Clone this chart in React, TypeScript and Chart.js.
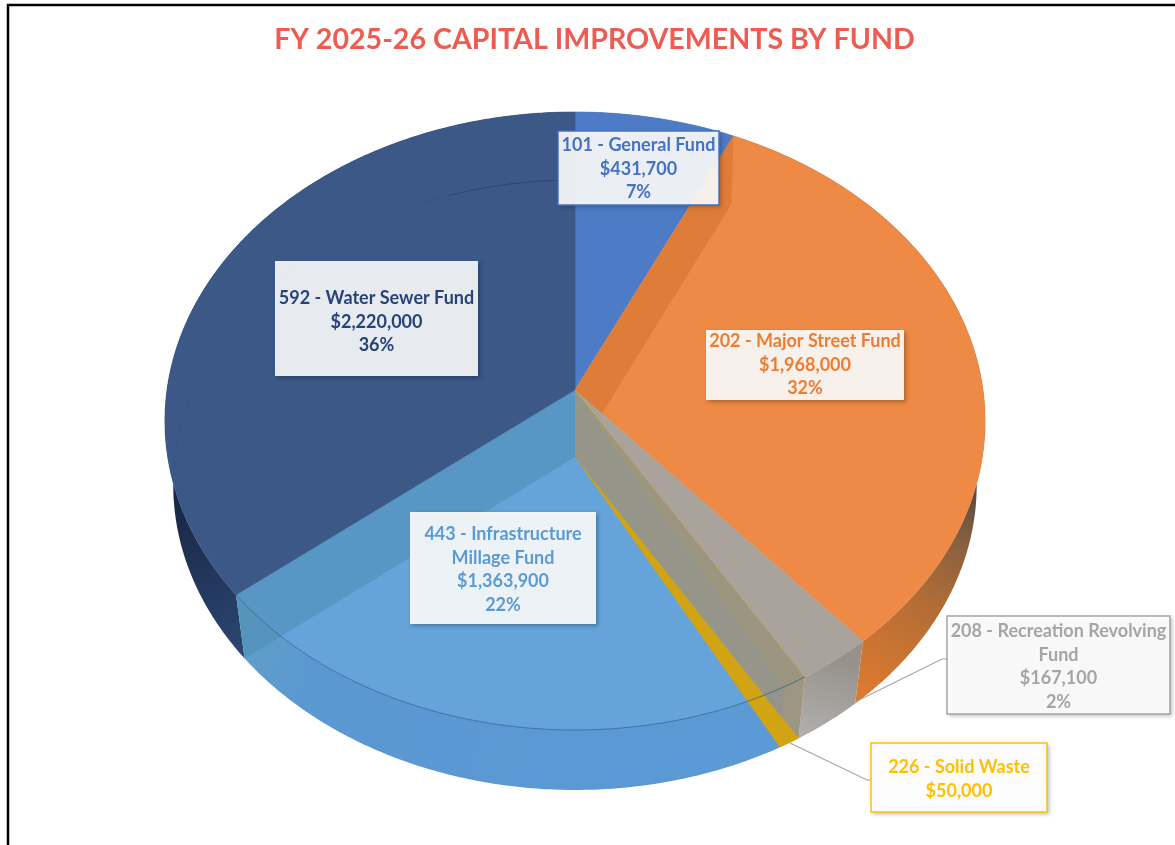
import React, { useEffect, useRef } from "react";
import { Chart, registerables } from "chart.js";

Chart.register(...registerables);

const categories = [
  "101 - General Fund",
  "202 - Major Street Fund",
  "208 - Recreation Revolving Fund",
  "226 - Solid Waste",
  "443 - Infrastructure Millage Fund",
  "592 - Water Sewer Fund",
];
const fundValues = [431700, 1968000, 167100, 50000, 1363900, 2220000];
const amountLabels = ["$431,700", "$1,968,000", "$167,100", "$50,000", "$1,363,900", "$2,220,000"];
const percentLabels = ["7%", "32%", "2%", "", "22%", "36%"];
const nameLines = [
  ["101 - General Fund"],
  ["202 - Major Street Fund"],
  ["208 - Recreation Revolving", "Fund"],
  ["226 - Solid Waste"],
  ["443 - Infrastructure", "Millage Fund"],
  ["592 - Water Sewer Fund"],
];
const topColors = ["#4e7bc6", "#ee8a45", "#aaa39b", "#e0aa12", "#65a3da", "#3b5887"];
const textColors = ["#4472c4", "#ed7d31", "#a5a5a5", "#ffc000", "#5b9bd5", "#264478"];
const borderColors = ["#4472c4", "rgba(255,255,255,0)", "#a5a5a5", "#ffc000", "rgba(255,255,255,0)", "rgba(255,255,255,0)"];
const boxFill = [
  "rgba(255,255,255,.9)",
  "rgba(255,255,255,.9)",
  "rgba(255,255,255,.9)",
  "rgba(255,255,255,.96)",
  "rgba(255,255,255,.9)",
  "rgba(255,255,255,.89)",
];
// label box: left, top, right, bottom and the first line's centre
const boxes = [
  [558, 131, 719, 205, 145],
  [706, 330, 904, 400, 341],
  [947, 616, 1170, 714, 631],
  [871, 743, 1047, 812, 767],
  [410, 512, 596, 624, 534],
  [275, 261, 478, 376, 298],
];
const leaders: Record<number, number[][]> = {
  2: [[853, 703], [942, 659], [947, 659]],
  3: [[790, 743], [867, 780], [871, 780]],
};

type Geo = { cx: number; cy: number; rx: number; ry: number; p: number };
const TOP: Geo = { cx: 575, cy: 390, rx: 408, ry: 305.9, p: 0.1003 };
const BOTTOM: Geo = { cx: 575, cy: 457, rx: 400, ry: 302.4, p: 0.0918 };

function project(g: Geo, theta: number): [number, number] {
  const t = -Math.cos(theta);
  const s = 1 / (1 - g.p * t);
  return [g.cx + g.rx * Math.sin(theta) * s, g.cy + g.ry * t * s];
}

function arcPts(g: Geo, a0: number, a1: number): [number, number][] {
  const n = Math.max(2, Math.ceil(Math.abs(a1 - a0) / 0.01));
  const out: [number, number][] = [];
  for (let i = 0; i <= n; i++) out.push(project(g, a0 + ((a1 - a0) * i) / n));
  return out;
}

function poly(ctx: CanvasRenderingContext2D, pts: number[][]) {
  ctx.beginPath();
  pts.forEach((p, i) => (i ? ctx.lineTo(p[0], p[1]) : ctx.moveTo(p[0], p[1])));
  ctx.closePath();
}

function openLine(ctx: CanvasRenderingContext2D, pts: number[][]) {
  ctx.beginPath();
  pts.forEach((p, i) => (i ? ctx.lineTo(p[0], p[1]) : ctx.moveTo(p[0], p[1])));
  ctx.stroke();
}

function wallFill(ctx: CanvasRenderingContext2D, i: number): string | CanvasGradient {
  if (i === 5) {
    const g = ctx.createLinearGradient(165, 440, 250, 650);
    g.addColorStop(0, "#121c33");
    g.addColorStop(1, "#2c4672");
    return g;
  }
  if (i === 1) {
    const g = ctx.createLinearGradient(975, 470, 860, 690);
    g.addColorStop(0, "#4a4640");
    g.addColorStop(0.3, "#8a6240");
    g.addColorStop(0.55, "#b06c35");
    g.addColorStop(1, "#dd7a2f");
    return g;
  }
  if (i === 4) {
    const g = ctx.createLinearGradient(240, 620, 780, 770);
    g.addColorStop(0, "#5f9fc4");
    g.addColorStop(0.15, "#5b98d2");
    g.addColorStop(1, "#5b9ad6");
    return g;
  }
  if (i === 2) {
    const g = ctx.createLinearGradient(830, 655, 805, 735);
    g.addColorStop(0, "#96918a");
    g.addColorStop(1, "#b0afae");
    return g;
  }
  if (i === 3) return "#f2bb1e";
  return "#3a60a0";
}

const pie3d = {
  id: "pie3d",
  beforeDraw(chart: any) {
    const { ctx, width, height } = chart;
    ctx.save();
    ctx.fillStyle = "#ffffff";
    ctx.fillRect(0, 0, width, height);
    ctx.strokeStyle = "#000000";
    ctx.lineWidth = 2.5;
    ctx.strokeRect(8, 5, width + 40, height + 40);
    ctx.restore();
  },
  beforeDatasetDraw(chart: any) {
    const ctx: CanvasRenderingContext2D = chart.ctx;
    const arcs = chart.getDatasetMeta(0).data;
    const th = arcs.map((a: any) => [a.startAngle + Math.PI / 2, a.endAngle + Math.PI / 2]);
    ctx.save();
    // outer walls, back to front
    [5, 0, 1, 2, 3, 4].forEach((i) => {
      const [a0, a1] = th[i];
      const pts = [...arcPts(TOP, a0, a1), ...arcPts(BOTTOM, a1, a0)];
      poly(ctx, pts);
      ctx.fillStyle = wallFill(ctx, i);
      ctx.fill();
    });
    // top faces
    arcs.forEach((a: any, i: number) => {
      const [a0, a1] = th[i];
      poly(ctx, [[TOP.cx, TOP.cy], ...arcPts(TOP, a0, a1)]);
      ctx.fillStyle = a.options.backgroundColor;
      ctx.fill();
      ctx.strokeStyle = a.options.backgroundColor;
      ctx.lineWidth = 0.6;
      ctx.stroke();
    });
    const apexT = [TOP.cx, TOP.cy];
    const apexB = [BOTTOM.cx, BOTTOM.cy];
    // radial wall of the orange slice seen through its face
    ctx.save();
    poly(ctx, [apexT, ...arcPts(TOP, th[1][0], th[1][1])]);
    ctx.clip();
    poly(ctx, [apexT, project(TOP, th[1][0]), project(BOTTOM, th[1][0]), apexB]);
    ctx.fillStyle = "rgba(190,95,30,.32)";
    ctx.fill();
    ctx.restore();
    // radial wall of the blue slice seen through its face
    poly(ctx, [apexT, project(TOP, th[4][1]), project(BOTTOM, th[4][1]), apexB]);
    ctx.fillStyle = "rgba(75,140,175,.5)";
    ctx.fill();
    // grey slice's inner wall
    poly(ctx, [apexT, project(TOP, th[2][1]), project(BOTTOM, th[2][1]), apexB]);
    ctx.fillStyle = "rgba(152,148,134,.96)";
    ctx.fill();
    // gold edge and floor seen through the face
    ctx.lineWidth = 1;
    ctx.strokeStyle = "rgba(190,160,50,.45)";
    openLine(ctx, [apexT, project(TOP, th[3][1])]);
    poly(ctx, [apexB, ...arcPts(BOTTOM, th[3][0], th[3][1])]);
    ctx.fillStyle = "#d2a414";
    ctx.fill();
    // rim lines seen through
    ctx.strokeStyle = "rgba(40,90,140,.7)";
    openLine(ctx, arcPts(TOP, th[3][0], th[4][1]));
    ctx.strokeStyle = "rgba(25,45,80,.08)";
    openLine(ctx, arcPts(BOTTOM, th[5][0] + 0.35, th[5][1]));
    ctx.strokeStyle = "rgba(25,45,80,.35)";
    openLine(ctx, arcPts(BOTTOM, th[5][1] - 0.35, th[5][1]));
    ctx.restore();
    return false;
  },
  afterDatasetsDraw(chart: any) {
    const ctx: CanvasRenderingContext2D = chart.ctx;
    ctx.save();
    Object.values(leaders).forEach((pts) => {
      ctx.strokeStyle = "#a5a5a5";
      ctx.lineWidth = 1.2;
      openLine(ctx, pts);
    });
    boxes.forEach((b, i) => {
      const [l, t, r, bt, first] = b;
      ctx.save();
      ctx.shadowColor = "rgba(0,0,0,.3)";
      ctx.shadowBlur = 4;
      ctx.shadowOffsetX = 1.5;
      ctx.shadowOffsetY = 1.5;
      ctx.fillStyle = boxFill[i];
      ctx.fillRect(l, t, r - l, bt - t);
      ctx.restore();
      ctx.strokeStyle = borderColors[i];
      ctx.lineWidth = 1.5;
      ctx.strokeRect(l, t, r - l, bt - t);
      const lines = [...nameLines[i], amountLabels[i]];
      if (percentLabels[i]) lines.push(percentLabels[i]);
      ctx.fillStyle = textColors[i];
      ctx.font = "bold 18px Lato, 'Open Sans', sans-serif";
      ctx.textAlign = "center";
      ctx.textBaseline = "middle";
      lines.forEach((s, k) => ctx.fillText(s, (l + r) / 2, first + k * 23.7));
    });
    ctx.restore();
  },
};

export default function App() {
  const ref = useRef<HTMLCanvasElement>(null);
  useEffect(() => {
    const chart = new Chart(ref.current!, {
      type: "pie",
      data: {
        labels: categories,
        datasets: [{ data: fundValues, backgroundColor: topColors, borderWidth: 0 }],
      },
      options: {
        animation: false,
        responsive: false,
        layout: { padding: { left: 14 } },
        plugins: {
          legend: { display: false },
          tooltip: { enabled: false },
          title: {
            display: true,
            text: "FY 2025-26 CAPITAL IMPROVEMENTS BY FUND",
            color: "#ef5b50",
            font: { family: "Lato, 'Open Sans', sans-serif", size: 28.6, weight: "bold" },
            padding: { top: 23, bottom: 10 },
          },
        },
      },
      plugins: [pie3d],
    } as any);
    return () => chart.destroy();
  }, []);
  return (
    <div style={{ position: "absolute", left: 0, top: 0, width: 1175, height: 845, overflow: "hidden" }}>
      <canvas ref={ref} width={1175} height={845} style={{ display: "block" }} />
    </div>
  );
}
